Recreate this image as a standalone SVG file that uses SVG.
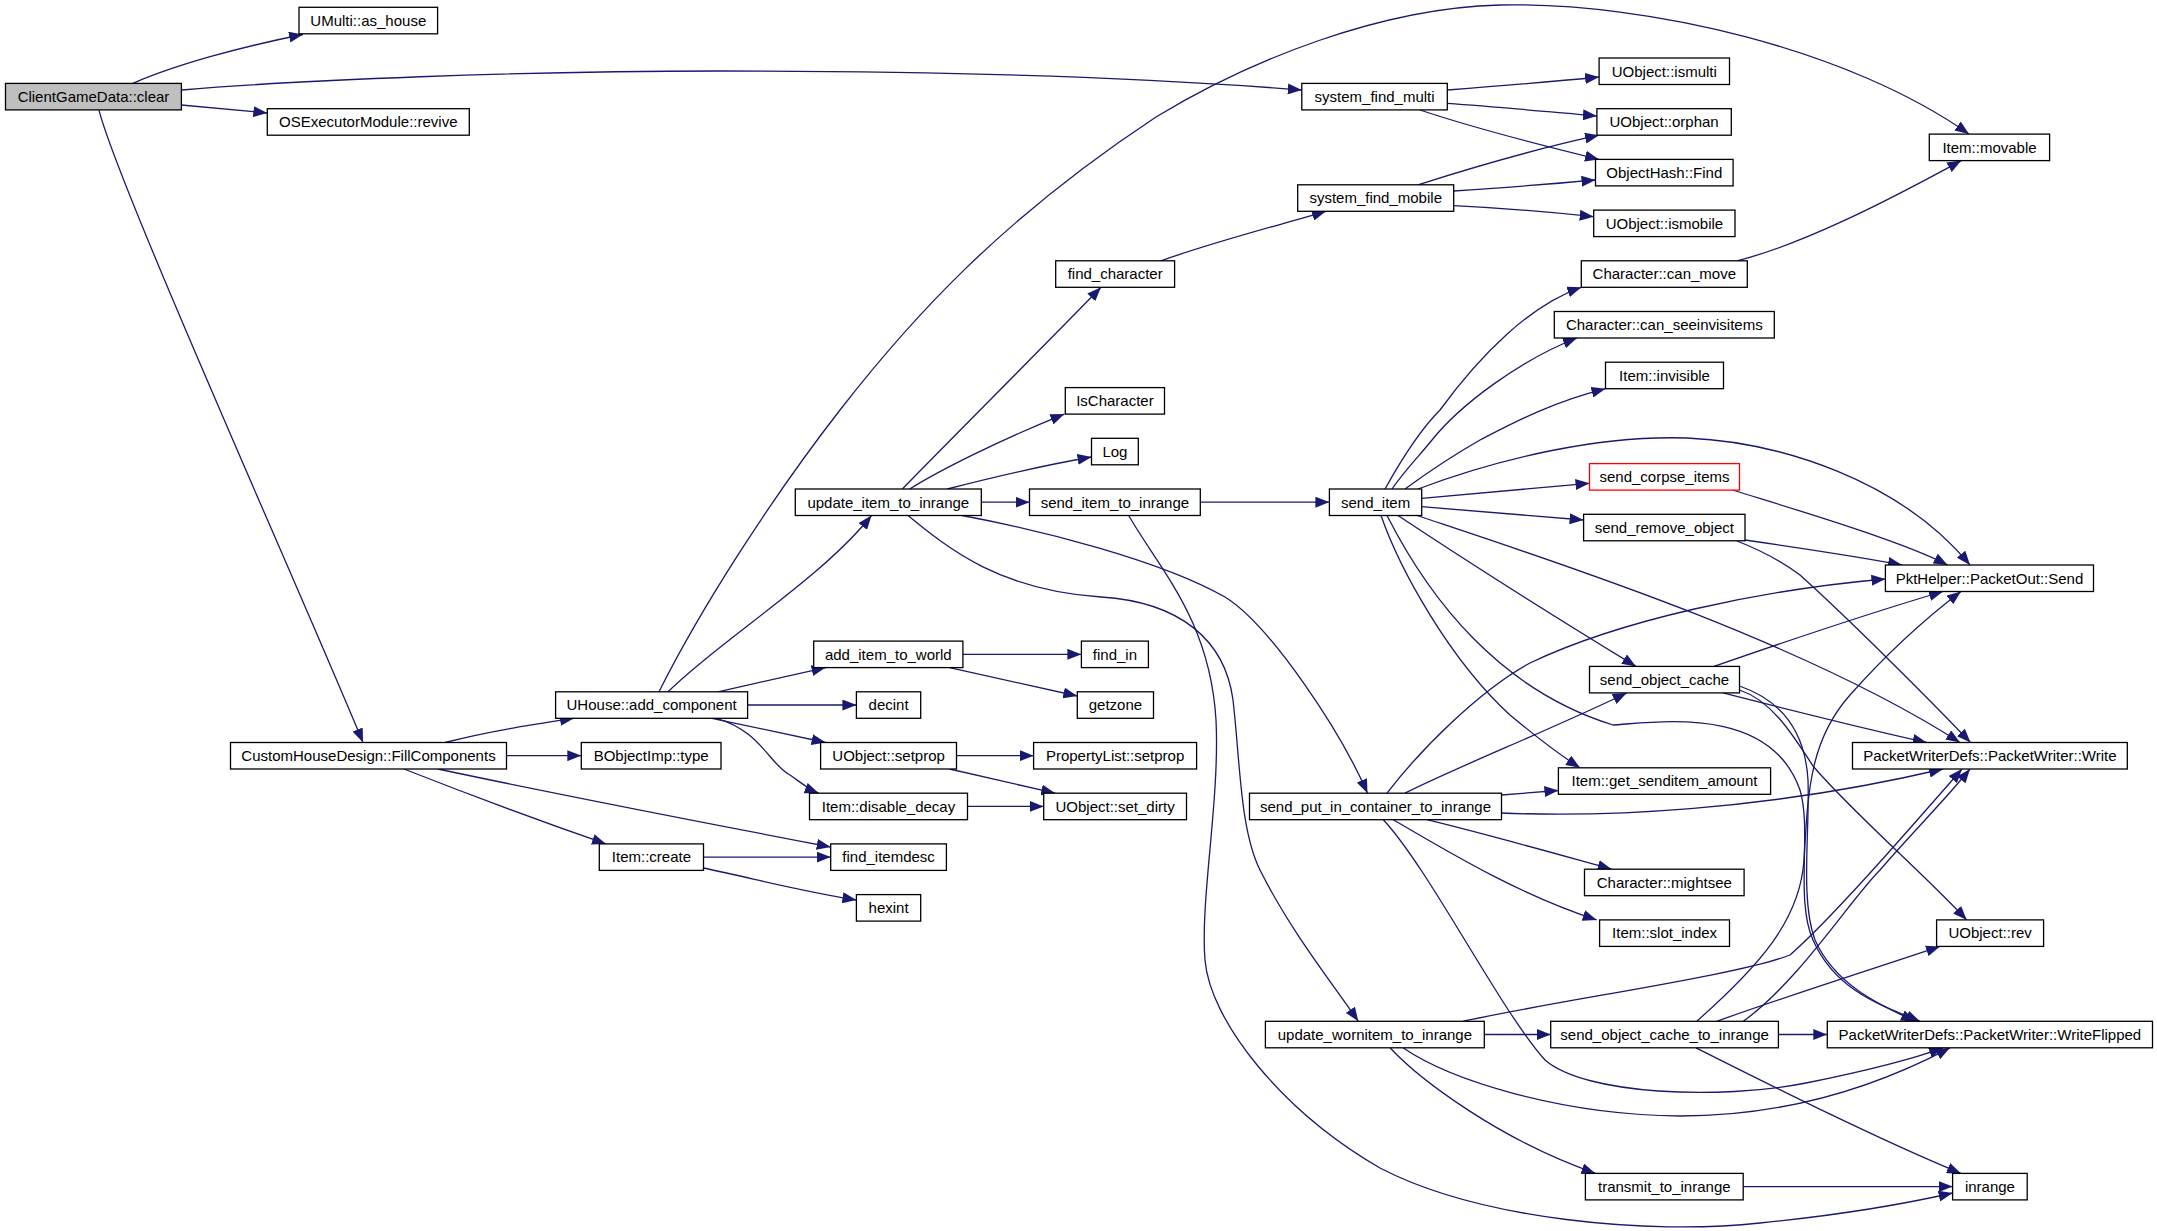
<svg xmlns="http://www.w3.org/2000/svg" width="2157" height="1231" viewBox="0 0 2157 1231">
<style>
.e path{fill:none;stroke:#191970;stroke-width:1.3;marker-end:url(#a)}
.n rect{fill:#fff;stroke:#000;stroke-width:1.3}
.n text{font-family:"Liberation Sans",Arial,sans-serif;font-size:15px;text-anchor:middle;fill:#000}
#n_clear rect{fill:#bfbfbf}
#n_send_corpse_items rect{stroke:#ff0000}
</style>
<defs>
<marker id="a" markerUnits="userSpaceOnUse" markerWidth="14" markerHeight="11" refX="14" refY="5.5" orient="auto"><path d="M0,0 L14,5.5 L0,11 z" fill="#191970"/></marker>
</defs>
<rect width="2157" height="1231" fill="#fff"/>
<g id="edges" class="e">
<path d="M133,83.3 C175,65 240,47 303,34.5"/>
<path d="M181.4,90 C300,80 520,71 720,71 C950,71 1150,78 1301.8,90"/>
<path d="M181.4,105 L267.3,113"/>
<path d="M99,110.3 C120,190 300,590 363,742.5"/>
<path d="M445,742.5 C490,731 530,725 574,718.3"/>
<path d="M506.5,755.7 L581.3,755.7"/>
<path d="M438,769 C560,795 700,822 830.7,847"/>
<path d="M404,769 C470,795 560,828 606,843.9"/>
<path d="M703.5,857.1 L830.7,857.1"/>
<path d="M703.5,868 C760,880 800,891 856.4,900"/>
<path d="M659,691.8 C700,610 770,500 840,410 C910,320 1000,220 1156,117 C1250,60 1380,8 1500,5 C1650,2 1850,50 1969,134.1"/>
<path d="M668,691.8 C720,640 820,580 871.5,515.5"/>
<path d="M718,691.8 L825.6,667.6"/>
<path d="M747.6,705 L856.4,705"/>
<path d="M712,718.3 L825.6,742.5"/>
<path d="M716,718.3 C760,730 770,765 790,775 C800,782 808,789 818.7,793.2"/>
<path d="M962.9,654.3 L1081.4,654.3"/>
<path d="M949.6,667.6 L1077.3,696"/>
<path d="M956.5,755.7 L1033.6,755.7"/>
<path d="M949.6,769 L1055.2,793.2"/>
<path d="M967.5,806.4 L1043.7,806.4"/>
<path d="M902.3,489 C940,450 1050,340 1101,287.3"/>
<path d="M909.7,489 C940,470 1000,440 1064.4,414.1"/>
<path d="M947.3,489 C990,478 1040,466 1091.5,457"/>
<path d="M981.3,502.2 L1029.5,502.2"/>
<path d="M962,515.5 C1040,530 1160,560 1225,597 C1270,625 1340,730 1367.5,793.2"/>
<path d="M908,515.5 C950,550 1000,590 1101,597 C1180,602 1225,640 1233,700 C1240,760 1240,830 1260,870 C1290,930 1330,980 1358.3,1021.3"/>
<path d="M1200.3,502.2 L1329.4,502.2"/>
<path d="M1128.7,515.5 C1160,570 1210,620 1216,720 C1220,800 1200,900 1205,960 C1210,1020 1280,1110 1380,1168 C1480,1220 1650,1235 1760,1223 C1840,1215 1900,1205 1952.6,1193"/>
<path d="M1385,489 C1400,462 1420,430 1440,410 C1480,355 1530,305 1581.3,287.3"/>
<path d="M1392,489 C1405,470 1420,455 1432,440 C1460,405 1520,360 1577,338"/>
<path d="M1405,489 C1420,478 1445,460 1480,440 C1515,422 1550,403 1605.5,388.7"/>
<path d="M1418,489 C1500,458 1600,435 1687,438 C1780,442 1900,480 1970,565"/>
<path d="M1421.7,498.3 L1589.5,483.3"/>
<path d="M1421.7,506.7 L1583.6,520"/>
<path d="M1398,515.5 C1480,570 1560,620 1636,666.4"/>
<path d="M1417,515.5 C1550,560 1800,640 1960,742.5"/>
<path d="M1381,515.5 C1400,570 1450,660 1510,715 C1540,740 1560,755 1580,767.8"/>
<path d="M1387,515.5 C1430,600 1500,690 1613,725 C1660,722 1770,705 1800,790 C1812,830 1795,900 1813,940 C1835,990 1880,1005 1920,1021.3"/>
<path d="M1387,793.2 C1420,750 1480,690 1530,663 C1620,620 1760,590 1885.4,579"/>
<path d="M1405,793.2 C1450,770 1550,730 1626.7,693"/>
<path d="M1501.5,795 L1558.4,790.5"/>
<path d="M1501.5,813 C1600,817 1760,812 1943,769"/>
<path d="M1426.7,819.7 C1490,835 1560,855 1611.7,869.2"/>
<path d="M1393.3,819.7 C1450,853 1520,895 1596.7,919.9"/>
<path d="M1383.3,819.7 C1430,870 1500,1010 1545,1060 C1585,1095 1720,1100 1806,1083 C1870,1070 1910,1060 1943,1047.8"/>
<path d="M1484.3,1034.5 L1550.7,1034.5"/>
<path d="M1463,1021.3 C1560,1000 1740,975 1790,955 C1830,920 1900,840 1962,769"/>
<path d="M1390,1047.8 C1420,1080 1500,1140 1595.5,1173.4"/>
<path d="M1403,1047.8 C1450,1080 1560,1115 1680,1116 C1780,1116 1870,1090 1950,1047.8"/>
<path d="M1696.7,1021.3 C1760,965 1800,920 1804,860 C1808,790 1810,740 1850,695 C1890,650 1930,615 1961,591.5"/>
<path d="M1716.7,1021.3 C1790,995 1870,970 1940,946.4"/>
<path d="M1743.3,1021.3 C1800,980 1850,900 1880,870 C1910,835 1945,800 1970,769"/>
<path d="M1778.4,1034.5 L1827.3,1034.5"/>
<path d="M1696,1047.8 C1780,1090 1880,1140 1961,1173.4"/>
<path d="M1743.2,1186.6 L1952.6,1186.6"/>
<path d="M1714,666.4 C1790,640 1880,610 1943,591.5"/>
<path d="M1723,692.9 C1790,710 1870,730 1926.7,742.5"/>
<path d="M1739.5,690 C1770,700 1790,730 1813,766 C1850,810 1920,870 1966.7,919.9"/>
<path d="M1739.5,686 C1780,700 1805,730 1808,780 C1810,830 1800,900 1815,940 C1835,985 1880,1005 1915,1021.3"/>
<path d="M1745,540 C1800,548 1860,557 1902,565"/>
<path d="M1737,541 C1760,550 1780,560 1800,575 C1850,620 1930,700 1970.5,742.5"/>
<path d="M1732.7,490 C1780,505 1900,540 1947.6,565"/>
<path d="M1447.3,90 C1500,86 1550,82 1599.1,77"/>
<path d="M1447.3,103.3 C1500,107 1550,112 1596.9,116"/>
<path d="M1420,110 C1480,130 1540,145 1599,159.4"/>
<path d="M1418,184.8 C1480,165 1540,148 1599,135.2"/>
<path d="M1453.7,191 C1500,188 1550,184 1595.5,180"/>
<path d="M1453.7,205.7 C1500,208 1550,212 1593.7,216.7"/>
<path d="M1160.8,260.8 C1220,240 1280,225 1326,211.3"/>
<path d="M1737,260.8 C1800,245 1880,205 1961.3,160.6"/>
</g>
<g id="n_clear" class="n"><rect x="5.5" y="83.4" width="175.9" height="26.5"/><text x="93.5" y="101.9">ClientGameData::clear</text></g>
<g id="n_as_house" class="n"><rect x="299" y="7.3" width="138.6" height="26.5"/><text x="368.3" y="25.8">UMulti::as_house</text></g>
<g id="n_revive" class="n"><rect x="267.3" y="108.7" width="202" height="26.5"/><text x="368.3" y="127.2">OSExecutorModule::revive</text></g>
<g id="n_system_find_multi" class="n"><rect x="1301.8" y="83.4" width="145.5" height="26.5"/><text x="1374.6" y="101.9">system_find_multi</text></g>
<g id="n_system_find_mobile" class="n"><rect x="1297.7" y="184.8" width="156" height="26.5"/><text x="1375.7" y="203.3">system_find_mobile</text></g>
<g id="n_find_character" class="n"><rect x="1055.7" y="260.8" width="118.9" height="26.5"/><text x="1115.2" y="279.3">find_character</text></g>
<g id="n_IsCharacter" class="n"><rect x="1065.3" y="387.6" width="99.2" height="26.5"/><text x="1114.9" y="406.1">IsCharacter</text></g>
<g id="n_ismulti" class="n"><rect x="1599.1" y="58" width="130.4" height="26.5"/><text x="1664.3" y="76.5">UObject::ismulti</text></g>
<g id="n_orphan" class="n"><rect x="1596.9" y="108.7" width="134.4" height="26.5"/><text x="1664.1" y="127.2">UObject::orphan</text></g>
<g id="n_Find" class="n"><rect x="1595.5" y="159.4" width="137.6" height="26.5"/><text x="1664.3" y="177.9">ObjectHash::Find</text></g>
<g id="n_ismobile" class="n"><rect x="1593.7" y="210.1" width="141.3" height="26.5"/><text x="1664.4" y="228.6">UObject::ismobile</text></g>
<g id="n_movable" class="n"><rect x="1929.3" y="134.1" width="120.3" height="26.5"/><text x="1989.5" y="152.6">Item::movable</text></g>
<g id="n_can_move" class="n"><rect x="1581.3" y="260.8" width="166" height="26.5"/><text x="1664.3" y="279.3">Character::can_move</text></g>
<g id="n_can_seeinvisitems" class="n"><rect x="1554.3" y="311.5" width="220" height="26.5"/><text x="1664.3" y="330">Character::can_seeinvisitems</text></g>
<g id="n_invisible" class="n"><rect x="1605.5" y="362.2" width="118" height="26.5"/><text x="1664.5" y="380.7">Item::invisible</text></g>
<g id="n_FillComponents" class="n"><rect x="230.5" y="742.5" width="276" height="26.5"/><text x="368.5" y="761">CustomHouseDesign::FillComponents</text></g>
<g id="n_add_component" class="n"><rect x="555.6" y="691.8" width="192" height="26.5"/><text x="651.6" y="710.3">UHouse::add_component</text></g>
<g id="n_BObjectImp_type" class="n"><rect x="581.3" y="742.5" width="139.7" height="26.5"/><text x="651.2" y="761">BObjectImp::type</text></g>
<g id="n_update_item_to_inrange" class="n"><rect x="795.3" y="489" width="186" height="26.5"/><text x="888.3" y="507.5">update_item_to_inrange</text></g>
<g id="n_send_item_to_inrange" class="n"><rect x="1029.5" y="489" width="170.8" height="26.5"/><text x="1114.9" y="507.5">send_item_to_inrange</text></g>
<g id="n_send_item" class="n"><rect x="1329.4" y="489" width="92.3" height="26.5"/><text x="1375.6" y="507.5">send_item</text></g>
<g id="n_Log" class="n"><rect x="1091.5" y="438.3" width="46.8" height="26.5"/><text x="1114.9" y="456.8">Log</text></g>
<g id="n_add_item_to_world" class="n"><rect x="813.7" y="641.1" width="149.2" height="26.5"/><text x="888.3" y="659.6">add_item_to_world</text></g>
<g id="n_find_in" class="n"><rect x="1081.4" y="641.1" width="67" height="26.5"/><text x="1114.9" y="659.6">find_in</text></g>
<g id="n_decint" class="n"><rect x="856.4" y="691.8" width="64.3" height="26.5"/><text x="888.6" y="710.3">decint</text></g>
<g id="n_getzone" class="n"><rect x="1077.3" y="691.8" width="76.2" height="26.5"/><text x="1115.4" y="710.3">getzone</text></g>
<g id="n_setprop" class="n"><rect x="820.6" y="742.5" width="135.9" height="26.5"/><text x="888.6" y="761">UObject::setprop</text></g>
<g id="n_PropertyList_setprop" class="n"><rect x="1033.6" y="742.5" width="163" height="26.5"/><text x="1115.1" y="761">PropertyList::setprop</text></g>
<g id="n_disable_decay" class="n"><rect x="809.5" y="793.2" width="158" height="26.5"/><text x="888.5" y="811.7">Item::disable_decay</text></g>
<g id="n_set_dirty" class="n"><rect x="1043.7" y="793.2" width="142.8" height="26.5"/><text x="1115.1" y="811.7">UObject::set_dirty</text></g>
<g id="n_send_put_in_container_to_inrange" class="n"><rect x="1249.5" y="793.2" width="252" height="26.5"/><text x="1375.5" y="811.7">send_put_in_container_to_inrange</text></g>
<g id="n_send_corpse_items" class="n"><rect x="1589.5" y="463.6" width="150" height="26.5"/><text x="1664.5" y="482.1">send_corpse_items</text></g>
<g id="n_send_remove_object" class="n"><rect x="1583.6" y="514.3" width="161.4" height="26.5"/><text x="1664.3" y="532.8">send_remove_object</text></g>
<g id="n_PktHelper_Send" class="n"><rect x="1885.4" y="565" width="208.1" height="26.5"/><text x="1989.5" y="583.5">PktHelper::PacketOut::Send</text></g>
<g id="n_send_object_cache" class="n"><rect x="1589.5" y="666.4" width="150" height="26.5"/><text x="1664.5" y="684.9">send_object_cache</text></g>
<g id="n_Write" class="n"><rect x="1852.5" y="742.5" width="274.8" height="26.5"/><text x="1989.9" y="761">PacketWriterDefs::PacketWriter::Write</text></g>
<g id="n_get_senditem_amount" class="n"><rect x="1558.4" y="767.8" width="212.2" height="26.5"/><text x="1664.5" y="786.3">Item::get_senditem_amount</text></g>
<g id="n_Item_create" class="n"><rect x="599.3" y="843.9" width="104.2" height="26.5"/><text x="651.4" y="862.4">Item::create</text></g>
<g id="n_find_itemdesc" class="n"><rect x="830.7" y="843.9" width="115.7" height="26.5"/><text x="888.6" y="862.4">find_itemdesc</text></g>
<g id="n_hexint" class="n"><rect x="856.4" y="894.6" width="64.3" height="26.5"/><text x="888.6" y="913.1">hexint</text></g>
<g id="n_update_wornitem_to_inrange" class="n"><rect x="1265.4" y="1021.3" width="218.9" height="26.5"/><text x="1374.9" y="1039.8">update_wornitem_to_inrange</text></g>
<g id="n_mightsee" class="n"><rect x="1584.5" y="869.2" width="159.6" height="26.5"/><text x="1664.3" y="887.7">Character::mightsee</text></g>
<g id="n_slot_index" class="n"><rect x="1599.6" y="919.9" width="129.9" height="26.5"/><text x="1664.6" y="938.4">Item::slot_index</text></g>
<g id="n_rev" class="n"><rect x="1936.6" y="919.9" width="107" height="26.5"/><text x="1990.1" y="938.4">UObject::rev</text></g>
<g id="n_send_object_cache_to_inrange" class="n"><rect x="1550.7" y="1021.3" width="227.7" height="26.5"/><text x="1664.6" y="1039.8">send_object_cache_to_inrange</text></g>
<g id="n_WriteFlipped" class="n"><rect x="1827.3" y="1021.3" width="325.2" height="26.5"/><text x="1989.9" y="1039.8">PacketWriterDefs::PacketWriter::WriteFlipped</text></g>
<g id="n_transmit_to_inrange" class="n"><rect x="1585.4" y="1173.4" width="157.8" height="26.5"/><text x="1664.3" y="1191.9">transmit_to_inrange</text></g>
<g id="n_inrange" class="n"><rect x="1952.6" y="1173.4" width="74.6" height="26.5"/><text x="1989.9" y="1191.9">inrange</text></g>
</svg>
